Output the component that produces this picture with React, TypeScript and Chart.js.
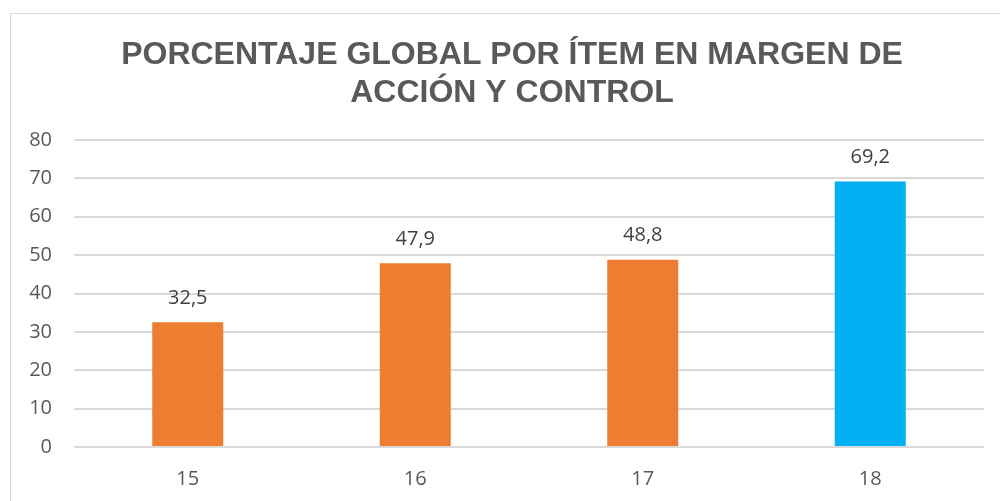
import React, { useEffect, useRef } from "react";
import { Chart, registerables } from "chart.js";

Chart.register(...registerables);

const categories = ["15", "16", "17", "18"];
const values = [32.5, 47.9, 48.8, 69.2];
const barColors = ["#ED7D31", "#ED7D31", "#ED7D31", "#00B0F0"];
const titleLines = ["PORCENTAJE GLOBAL POR ÍTEM EN MARGEN DE", "ACCIÓN Y CONTROL"];

const fmt = (v: number) => v.toFixed(1).replace(".", ",");

const labelPlugin = {
  id: "barLabels",
  afterDatasetsDraw(chart: any) {
    const ctx = chart.ctx;
    const meta = chart.getDatasetMeta(0);
    ctx.save();
    ctx.font = "20px 'Open Sans'";
    ctx.fillStyle = "#404040";
    ctx.textAlign = "center";
    ctx.textBaseline = "middle";
    meta.data.forEach((el: any, i: number) => {
      ctx.fillText(fmt(values[i]), el.x, el.y - 24);
    });
    ctx.restore();
  },
};

const titlePlugin = {
  id: "customTitle",
  afterDraw(chart: any) {
    const ctx = chart.ctx;
    ctx.save();
    ctx.font = "bold 32px 'Liberation Sans', Arial";
    ctx.fillStyle = "#595959";
    ctx.textAlign = "center";
    ctx.textBaseline = "alphabetic";
    ctx.fillText(titleLines[0], 512, 63.5);
    ctx.fillText(titleLines[1], 512, 102);
    ctx.restore();
  },
};

const borderPlugin = {
  id: "outerBorder",
  beforeDraw(chart: any) {
    const ctx = chart.ctx;
    ctx.save();
    ctx.fillStyle = "#FFFFFF";
    ctx.fillRect(0, 0, chart.width, chart.height);
    ctx.strokeStyle = "#D9D9D9";
    ctx.lineWidth = 1;
    ctx.strokeRect(10.5, 13.5, 1010, 520);
    ctx.restore();
  },
};

export default function App() {
  const ref = useRef<HTMLCanvasElement>(null);
  useEffect(() => {
    document.body.style.margin = "0";
    const chart = new Chart(ref.current!, {
      type: "bar",
      data: {
        labels: categories,
        datasets: [
          {
            data: values,
            backgroundColor: barColors,
            categoryPercentage: 1,
            barPercentage: 0.312,
          },
        ],
      },
      options: {
        animation: false,
        responsive: false,
        layout: { padding: { top: 140, left: 10, right: 16, bottom: 0 } },
        plugins: {
          legend: { display: false },
          tooltip: { enabled: false },
          title: { display: false },
        },
        scales: {
          x: {
            grid: { display: false, drawTicks: false },
            border: { display: false },
            ticks: { color: "#595959", font: { family: "'Open Sans'", size: 20 }, padding: 20 },
            afterFit(scale: any) {
              scale.height = 54;
            },
          },
          y: {
            min: 0,
            max: 80,
            ticks: { stepSize: 10, color: "#595959", font: { family: "'Open Sans'", size: 20 }, padding: 22 },
            grid: { color: "#D9D9D9", lineWidth: 2, drawTicks: false },
            border: { display: false },
            afterFit(scale: any) {
              scale.width = 64;
            },
          },
        },
      },
      plugins: [labelPlugin, borderPlugin, titlePlugin],
    });
    return () => chart.destroy();
  }, []);
  return <canvas ref={ref} width={1000} height={501} style={{ display: "block" }} />;
}
